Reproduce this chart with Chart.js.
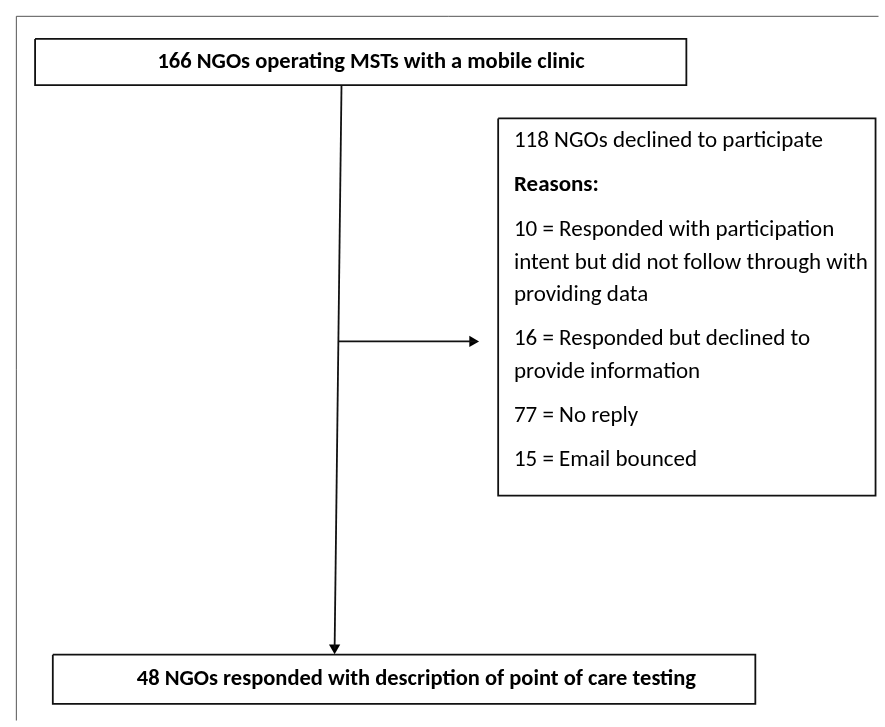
<!DOCTYPE html>
<html>
<head>
<meta charset="utf-8">
<script src="https://cdn.jsdelivr.net/npm/chart.js@4.4.1/dist/chart.umd.min.js"></script>
<style>
  html, body { margin: 0; padding: 0; background: #fff; }
  #wrap { width: 885px; height: 727px; }
</style>
</head>
<body>
<div id="wrap"><canvas id="chart" width="885" height="727"></canvas></div>
<script>
// flow counts
const totalNgos = 166;
const declinedNgos = 118;
const respondedNgos = 48;
const reasonCounts = [10, 16, 77, 15];
const reasonLines = [
  ['Responded with participation', 'intent but did not follow through with', 'providing data'],
  ['Responded but declined to', 'provide information'],
  ['No reply'],
  ['Email bounced']
];
const topLabel = totalNgos + ' NGOs operating MSTs with a mobile clinic';
const sideLabel = declinedNgos + ' NGOs declined to participate';
const bottomLabel = respondedNgos + ' NGOs responded with description of point of care testing';

// layout in page units (x: 0..885, y: 0..727)
const topBox = { x0: 29, y0: 33, x1: 690, y1: 80 };
const sideBox = { x0: 499, y0: 114, x1: 882, y1: 498 };
const bottomBox = { x0: 47, y0: 660, x1: 760, y1: 710 };
const mainLine = { xTop: 340, xBottom: 333 };
const branchY = 341;

function rect(b) {
  return [
    { x: b.x0, y: b.y0 }, { x: b.x1, y: b.y0 },
    { x: b.x1, y: b.y1 }, { x: b.x0, y: b.y1 }, { x: b.x0, y: b.y0 }
  ];
}

function lineAt(y) {
  const t = (y - topBox.y1) / (bottomBox.y0 - topBox.y1);
  return mainLine.xTop + (mainLine.xBottom - mainLine.xTop) * t;
}

const boxStyle = { borderColor: '#111', borderWidth: 1.8, pointRadius: 0, fill: false, tension: 0 };

const datasets = [
  { ...boxStyle, borderColor: '#555', borderWidth: 1, data: [{ x: 10, y: 760 }, { x: 10, y: 10 }, { x: 900, y: 10 }] },
  { ...boxStyle, data: rect(topBox) },
  { ...boxStyle, data: rect(sideBox) },
  { ...boxStyle, data: rect(bottomBox) },
  { ...boxStyle, data: [{ x: mainLine.xTop, y: topBox.y1 }, { x: mainLine.xBottom, y: bottomBox.y0 - 6 }] },
  { ...boxStyle, data: [{ x: lineAt(branchY), y: branchY }, { x: sideBox.x0 - 22, y: branchY }] },
  // arrow heads
  { type: 'scatter', data: [{ x: mainLine.xBottom, y: bottomBox.y0 - 7 }], pointStyle: 'triangle',
    rotation: 180, pointRadius: 6.5, backgroundColor: '#000', borderColor: '#000', borderWidth: 0 },
  { type: 'scatter', data: [{ x: sideBox.x0 - 26, y: branchY }], pointStyle: 'triangle',
    rotation: 90, pointRadius: 6.5, backgroundColor: '#000', borderColor: '#000', borderWidth: 0 }
];

const FONT = "Carlito, Calibri, 'Open Sans', sans-serif";

const textPlugin = {
  id: 'flowText',
  afterDatasetsDraw(chart) {
    const { ctx, scales: { x, y } } = chart;
    ctx.save();
    ctx.fillStyle = '#000';
    ctx.textBaseline = 'middle';

    ctx.textAlign = 'center';
    ctx.font = 'bold 22.5px ' + FONT;
    ctx.fillText(topLabel, x.getPixelForValue(370), y.getPixelForValue(57), 432);
    ctx.fillText(bottomLabel, x.getPixelForValue(416), y.getPixelForValue(685), 564);

    ctx.textAlign = 'left';
    const tx = x.getPixelForValue(515);
    ctx.font = '23px ' + FONT;
    ctx.fillText(sideLabel, tx, y.getPixelForValue(137));
    ctx.font = 'bold 23px ' + FONT;
    ctx.fillText('Reasons:', tx, y.getPixelForValue(182));
    ctx.font = '23px ' + FONT;
    let ly = 228;
    reasonCounts.forEach((n, i) => {
      reasonLines[i].forEach((ln, j) => {
        ctx.fillText(j === 0 ? n + ' = ' + ln : ln, tx, y.getPixelForValue(ly));
        ly += 33;
      });
      ly += 12;
    });
    ctx.restore();
  }
};

new Chart(document.getElementById('chart'), {
  type: 'line',
  data: { datasets },
  options: {
    responsive: false,
    animation: false,
    parsing: false,
    layout: { padding: 0 },
    plugins: { legend: { display: false }, tooltip: { enabled: false } },
    scales: {
      x: { type: 'linear', min: 0, max: 885, display: false },
      y: { type: 'linear', min: 0, max: 727, reverse: true, display: false }
    }
  },
  plugins: [textPlugin]
});
</script>
</body>
</html>
